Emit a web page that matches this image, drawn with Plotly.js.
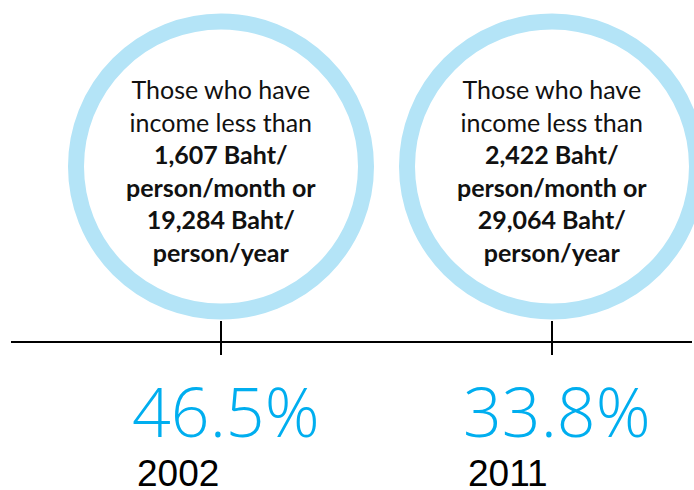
<!DOCTYPE html>
<html>
<head>
<meta charset="utf-8">
<script src="https://cdn.plot.ly/plotly-3.0.1.min.js"></script>
<style>html,body{margin:0;padding:0;background:#fff;}#chart{width:694px;height:490px;}</style>
</head>
<body>
<div id="chart"></div>
<script>
const years = ['2002', '2011'];
const povertyRate = [46.5, 33.8];
const monthlyLine = ['1,607', '2,422'];
const yearlyLine = ['19,284', '29,064'];

const idx = years.map((_, i) => i);
const ringColor = '#b4e4f7';
const pctColor = '#00aeef';
const circleY = 166.5;
const lineY = 342;

const traces = [{
  type: 'scatter', mode: 'markers',
  x: idx, y: idx.map(() => circleY),
  marker: {symbol: 'circle-open', size: 290, color: ringColor, line: {width: 16, color: ringColor}},
  hoverinfo: 'skip', showlegend: false
}];

const annotations = [];
const shapes = [{
  type: 'line', xref: 'paper', yref: 'y', x0: 11/694, x1: 692/694, y0: lineY, y1: lineY,
  line: {color: '#000', width: 2}
}];

idx.forEach(i => {
  shapes.push({type: 'line', xref: 'x', yref: 'y', x0: i, x1: i, y0: 321, y1: 355, line: {color: '#000', width: 2}});
  annotations.push({
    x: i, y: 170, xref: 'x', yref: 'y', showarrow: false, xanchor: 'center', yanchor: 'middle', align: 'center',
    text: 'Those who have<br>income less than<br><b>' + monthlyLine[i] + ' Baht/</b><br><b>person/month or</b><br><b>' + yearlyLine[i] + ' Baht/</b><br><b>person/year</b>',
    font: {family: 'Lato, sans-serif', size: 25, color: '#111'}
  });
  annotations.push({
    x: i, y: 410, xref: 'x', yref: 'y', showarrow: false, xanchor: 'left', yanchor: 'middle', xshift: -91,
    text: povertyRate[i].toFixed(1) + '%',
    font: {family: 'Open Sans, sans-serif', size: 68, color: pctColor, weight: 300}
  });
  annotations.push({
    x: i, y: 473, xref: 'x', yref: 'y', showarrow: false, xanchor: 'left', yanchor: 'middle', xshift: -86,
    text: years[i],
    font: {family: 'Liberation Sans, Arial, sans-serif', size: 37, color: '#000'}
  });
});

const layout = {
  width: 694, height: 490,
  margin: {l: 0, r: 0, t: 0, b: 0},
  paper_bgcolor: '#fff', plot_bgcolor: '#fff',
  xaxis: {range: [-221/331, (694-221)/331], visible: false, fixedrange: true},
  yaxis: {range: [490, 0], visible: false, fixedrange: true},
  shapes: shapes, annotations: annotations, showlegend: false
};

Plotly.newPlot('chart', traces, layout, {staticPlot: true, displayModeBar: false});
</script>
</body>
</html>
